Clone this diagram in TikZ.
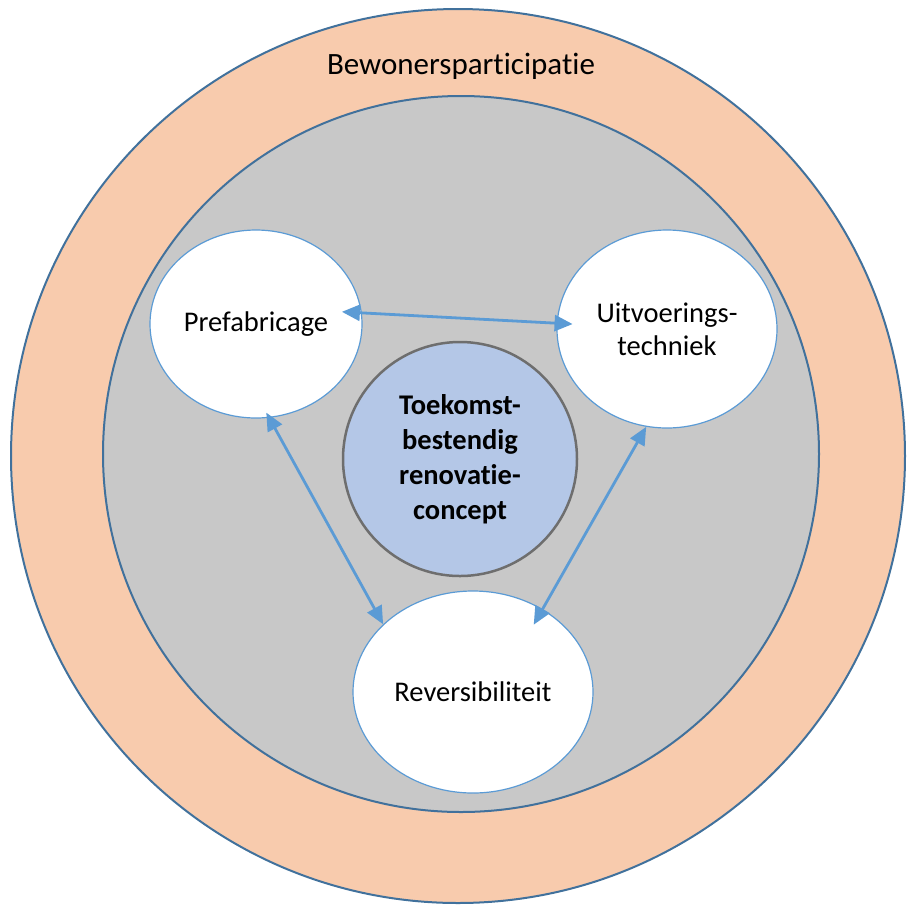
\documentclass[tikz,border=0pt]{standalone}
\usepackage{fontspec}
\setmainfont{Carlito}[Ligatures=NoCommon]
\usepackage{tikz}
\usetikzlibrary{shapes.geometric,arrows.meta,positioning}

\definecolor{peach}{HTML}{F8CBAD}
\definecolor{ringblue}{HTML}{41719C}
\definecolor{lightgrey}{HTML}{C8C8C8}
\definecolor{linkblue}{HTML}{5B9BD5}
\definecolor{coreblue}{HTML}{B4C7E7}
\definecolor{coregrey}{HTML}{6E6E6E}

\begin{document}
\begin{tikzpicture}[
    x=1pt, y=-1pt,
    ring/.style={circle, draw=ringblue, line width=2pt, inner sep=0pt},
    topic/.style={ellipse, draw=linkblue, line width=1.2pt, fill=white, inner sep=0pt, align=center, font=\fontsize{28.5}{33}\selectfont},
    core/.style={circle, draw=coregrey, line width=2.5pt, fill=coreblue, inner sep=0pt, align=center, font=\fontsize{28.5}{35}\selectfont\bfseries},
    arrow/.style={{Triangle[length=18pt,width=16pt]}-{Triangle[length=18pt,width=16pt]}, draw=linkblue, line width=2.8pt}
]
    \useasboundingbox (0,0) rectangle (908,906);

    % Rings
    \node[ring, fill=peach, minimum size=894pt] (outer) at (458,456) {};
    \node[ring, fill=lightgrey, minimum size=716pt] (inner) at (461,454) {};
    \node[font=\fontsize{31}{36}\selectfont] (bew) at (461,66) {Bewonersparticipatie};

    % Centre
    \node[core, minimum size=234pt] (concept) at (460,459) {Toekomst-\\bestendig\\renovatie-\\concept};

    % Three topics
    \node[topic, minimum width=212pt, minimum height=188pt] (pre) at (256,324) {Prefabricage};
    \node[topic, minimum width=220pt, minimum height=198pt] (uit) at (667,329) {Uitvoerings-\\techniek};
    \node[topic, minimum width=240pt, minimum height=202pt] (rev) at (473,692) {Reversibiliteit};

    % Connections
    \draw[arrow, shorten <=-20pt, shorten >=-16pt] (pre.6) -- (uit.177);
    \draw[arrow, shorten <=-6pt] (pre.278) -- (rev.143);
    \draw[arrow, shorten >=-18pt] (uit.258) -- (rev.50);
\end{tikzpicture}
\end{document}
